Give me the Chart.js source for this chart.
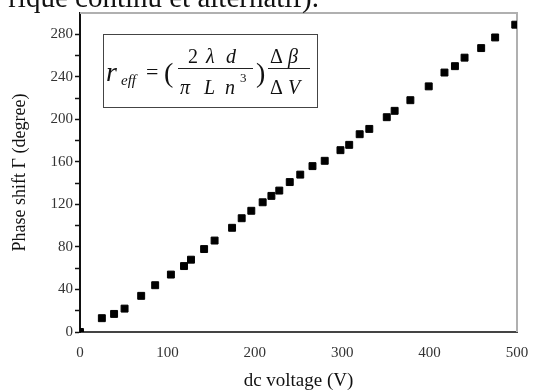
<!DOCTYPE html>
<html>
<head>
<meta charset="utf-8">
<script src="https://cdn.jsdelivr.net/npm/chart.js@4.4.1/dist/chart.umd.min.js"></script>
<style>
  html, body { margin: 0; padding: 0; background: #fff; overflow: hidden; }
  #wrap { position: relative; width: 533px; height: 392px; overflow: hidden; }
  #c { position: absolute; left: 0; top: 0; }
  .t { position: absolute; font-family: "Liberation Serif", "DejaVu Serif", serif; line-height: 1; white-space: nowrap; color: #111; }
  .i { font-style: italic; }
  .bar { position: absolute; height: 1px; background: #222; }
  #topline { position: absolute; right: 214px; top: -17px; font-family: "Liberation Serif", serif; font-size: 29px; line-height: 1; white-space: nowrap; color: #111; }
  #formule { position: absolute; left: 103px; top: 34px; width: 213px; height: 72px; border: 1px solid #444; }
</style>
</head>
<body>
<div id="wrap">
  <canvas id="c" width="533" height="392"></canvas>
  <div id="topline">rique continu et alternatif).</div>
  <div id="formule"></div>
</div>
<script>
// valeurs
const tension = [0, 25, 39, 51, 70, 86, 104, 119, 127, 142, 154, 174, 185, 196, 209, 219, 228, 240, 252, 266, 280, 298, 308, 320, 331, 351, 360, 378, 399, 417, 429, 440, 459, 475, 498];
const dephasage = [0, 13, 17, 22, 34, 44, 54, 62, 68, 78, 86, 98, 107, 114, 122, 128, 133, 141, 148, 156, 161, 171, 176, 186, 191, 202, 208, 218, 231, 244, 250, 258, 267, 277, 289];
const xTicks = [0, 100, 200, 300, 400, 500];
const yTicks = [0, 40, 80, 120, 160, 200, 240, 280];

// formule (texte positionné à la main)
function piece(txt, x, base, size, italic) {
  const s = document.createElement("span");
  s.className = "t" + (italic ? " i" : "");
  s.textContent = txt;
  s.style.fontSize = size + "px";
  s.style.left = x + "px";
  s.style.top = (base - 0.8375 * size) + "px";
  document.getElementById("wrap").appendChild(s);
}
function barre(x1, x2, y) {
  const b = document.createElement("div");
  b.className = "bar";
  b.style.left = x1 + "px";
  b.style.width = (x2 - x1) + "px";
  b.style.top = y + "px";
  document.getElementById("wrap").appendChild(b);
}
piece("r", 106, 81, 28, true);
piece("eff", 121, 86, 15, true);
piece("=", 146, 79, 22, false);
piece("(", 164, 82, 28, false);
piece("2", 188, 63, 20, false);
piece("λ", 206, 63, 20, true);
piece("d", 226, 63, 20, true);
barre(178, 253, 68);
piece("π", 180, 94, 20, true);
piece("L", 204, 94, 20, true);
piece("n", 225, 94, 20, true);
piece("3", 240, 82, 13, false);
piece(")", 256, 82, 28, false);
piece("Δ", 270, 63, 20, false);
piece("β", 288, 63, 20, true);
barre(268, 310, 68);
piece("Δ", 270, 94, 20, false);
piece("V", 288, 94, 20, true);

const cadre = {
  id: "cadre",
  beforeDatasetsDraw(chart) {
    const a = chart.chartArea;
    const ctx = chart.ctx;
    ctx.save();
    ctx.strokeStyle = "#b0b0b0";
    ctx.lineWidth = 2;
    ctx.beginPath();
    ctx.moveTo(a.left, a.top);
    ctx.lineTo(a.right, a.top);
    ctx.lineTo(a.right, a.bottom);
    ctx.stroke();
    ctx.restore();
  }
};

const serif = "'Liberation Serif', 'DejaVu Serif', serif";

new Chart(document.getElementById("c").getContext("2d"), {
  type: "scatter",
  data: {
    datasets: [{
      data: tension.map((v, i) => ({ x: v, y: dephasage[i] })),
      pointStyle: "rect",
      pointRadius: 4.9,
      backgroundColor: "#000",
      borderColor: "#000",
      borderWidth: 1
    }]
  },
  options: {
    responsive: false,
    animation: false,
    layout: { padding: { top: 13, right: 16, left: 0, bottom: 0 } },
    plugins: { legend: { display: false }, tooltip: { enabled: false } },
    scales: {
      x: {
        type: "linear",
        min: 0,
        max: 500,
        afterFit: s => { s.height = 60; s.paddingLeft = 0; s.paddingRight = 0; },
        afterBuildTicks: s => { s.ticks = xTicks.map(v => ({ value: v })); },
        ticks: { font: { family: serif, size: 15 }, color: "#333", padding: 12, maxRotation: 0 },
        grid: { drawOnChartArea: false, drawTicks: false },
        border: { color: "#444", width: 2 },
        title: { display: true, text: "dc voltage (V)", font: { family: serif, size: 19 }, color: "#111", padding: { top: 0, bottom: 0 } }
      },
      y: {
        type: "linear",
        min: 0,
        max: 300,
        afterFit: s => { s.width = 80; },
        afterBuildTicks: s => {
          const t = [];
          for (let v = 0; v <= 280; v += 20) t.push({ value: v });
          s.ticks = t;
        },
        ticks: {
          font: { family: serif, size: 15 },
          color: "#333",
          padding: 2,
          callback: v => (yTicks.includes(v) ? v : "")
        },
        grid: { drawOnChartArea: false, tickLength: 5, tickColor: "#111", tickWidth: 1.5 },
        border: { color: "#111", width: 2 },
        title: { display: true, text: "Phase shift Γ (degree)", font: { family: serif, size: 18 }, color: "#111", padding: { top: 9, bottom: 0 } }
      }
    }
  },
  plugins: [cadre]
});
</script>
</body>
</html>
